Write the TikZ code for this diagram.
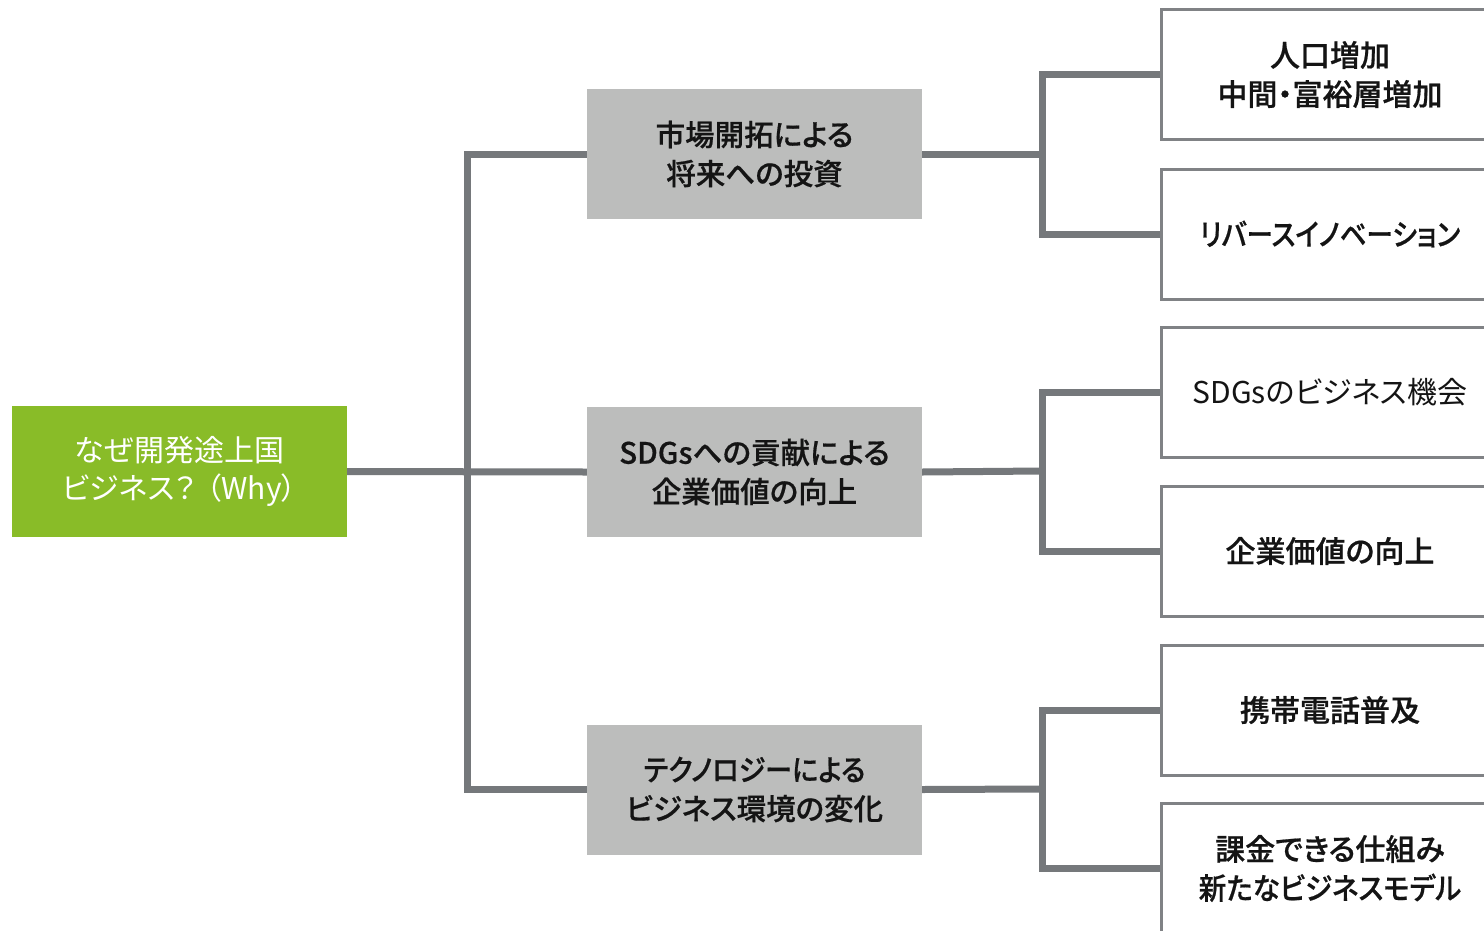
\documentclass[tikz,border=0pt]{standalone}
\usepackage{fontspec}
\setmainfont{Noto Sans CJK JP}[RawFeature={+palt}, BoldFont={Noto Sans CJK JP Medium}, BoldFeatures={FakeBold=0.6}]
\definecolor{lineGray}{RGB}{117,120,123}
\definecolor{boxGray}{RGB}{188,189,188}
\definecolor{rootGreen}{RGB}{137,188,40}
\definecolor{borderGray}{RGB}{128,130,133}
\definecolor{txt}{RGB}{20,20,20}
\tikzset{
  conn/.style={draw=lineGray, line width=7pt, line join=miter},
  rootbox/.style={fill=rootGreen, text=white, minimum width=335pt, minimum height=131pt, inner sep=0pt, align=center, font=\fontsize{30pt}{38pt}\selectfont},
  midbox/.style={fill=boxGray, text=txt, minimum width=335pt, minimum height=130pt, inner sep=0pt, align=center, font=\bfseries\fontsize{29.5pt}{39pt}\selectfont},
  leafbox/.style={draw=borderGray, line width=2pt, fill=white, text=txt, minimum width=336pt, minimum height=129pt, inner sep=0pt, align=center, font=\bfseries\fontsize{30pt}{39pt}\selectfont},
}
\begin{document}
\begin{tikzpicture}[x=1pt, y=-1pt]
\useasboundingbox (0,0) rectangle (1484,930);
\clip (0,0) rectangle (1484,930);
% coordinates for junctions
\coordinate (t) at (467,471);
\coordinate (b1) at (1042,154);
\coordinate (b2) at (1042,471);
\coordinate (b3) at (1042,789);
% nodes
\node[rootbox] (root) at (179.5,471.5) {なぜ開発途上国\\ビジネス？\hspace{10pt}（Why）\hspace{8pt}};
\node[midbox] (m1) at (754.5,154) {市場開拓による\\将来への投資};
\node[midbox] (m2) at (754.5,472) {SDGsへの貢献による\\企業価値の向上};
\node[midbox] (m3) at (754.5,789.5) {\scalebox{0.92}[1]{テクノロジーによる}\\ビジネス環境の変化};
\node[leafbox] (r1) at (1330,74.5) {人口増加\\中間・富裕層増加};
\node[leafbox] (r2) at (1330,234) {\scalebox{0.885}[1]{リバースイノベーション}};
\node[leafbox] (r3) at (1330,392.5) {\mdseries SDGsのビジネス機会};
\node[leafbox] (r4) at (1330,551) {企業価値の向上};
\node[leafbox] (r5) at (1330,710) {携帯電話普及};
\node[leafbox] (r6) at (1330,868.5) {課金できる仕組み\\\scalebox{0.92}[1]{新たなビジネスモデル}};
% connectors
\draw[conn] (root.east) -- (m2.west);
\draw[conn] (m1.west) -| (t) |- (m3.west);
\draw[conn] (m1.east) -- (b1);
\draw[conn] (r1.west) -| (b1) |- (r2.west);
\draw[conn] (m2.east) -- (b2);
\draw[conn] (r3.west) -| (b2) |- (r4.west);
\draw[conn] (m3.east) -- (b3);
\draw[conn] (r5.west) -| (b3) |- (r6.west);
% redraw leaf borders on top of connector ends
\foreach \n in {r1,r2,r3,r4,r5,r6}{
  \draw[draw=borderGray, line width=2pt] (\n.north east) -- (\n.north west) -- (\n.south west) -- (\n.south east);
}
\end{tikzpicture}
\end{document}
